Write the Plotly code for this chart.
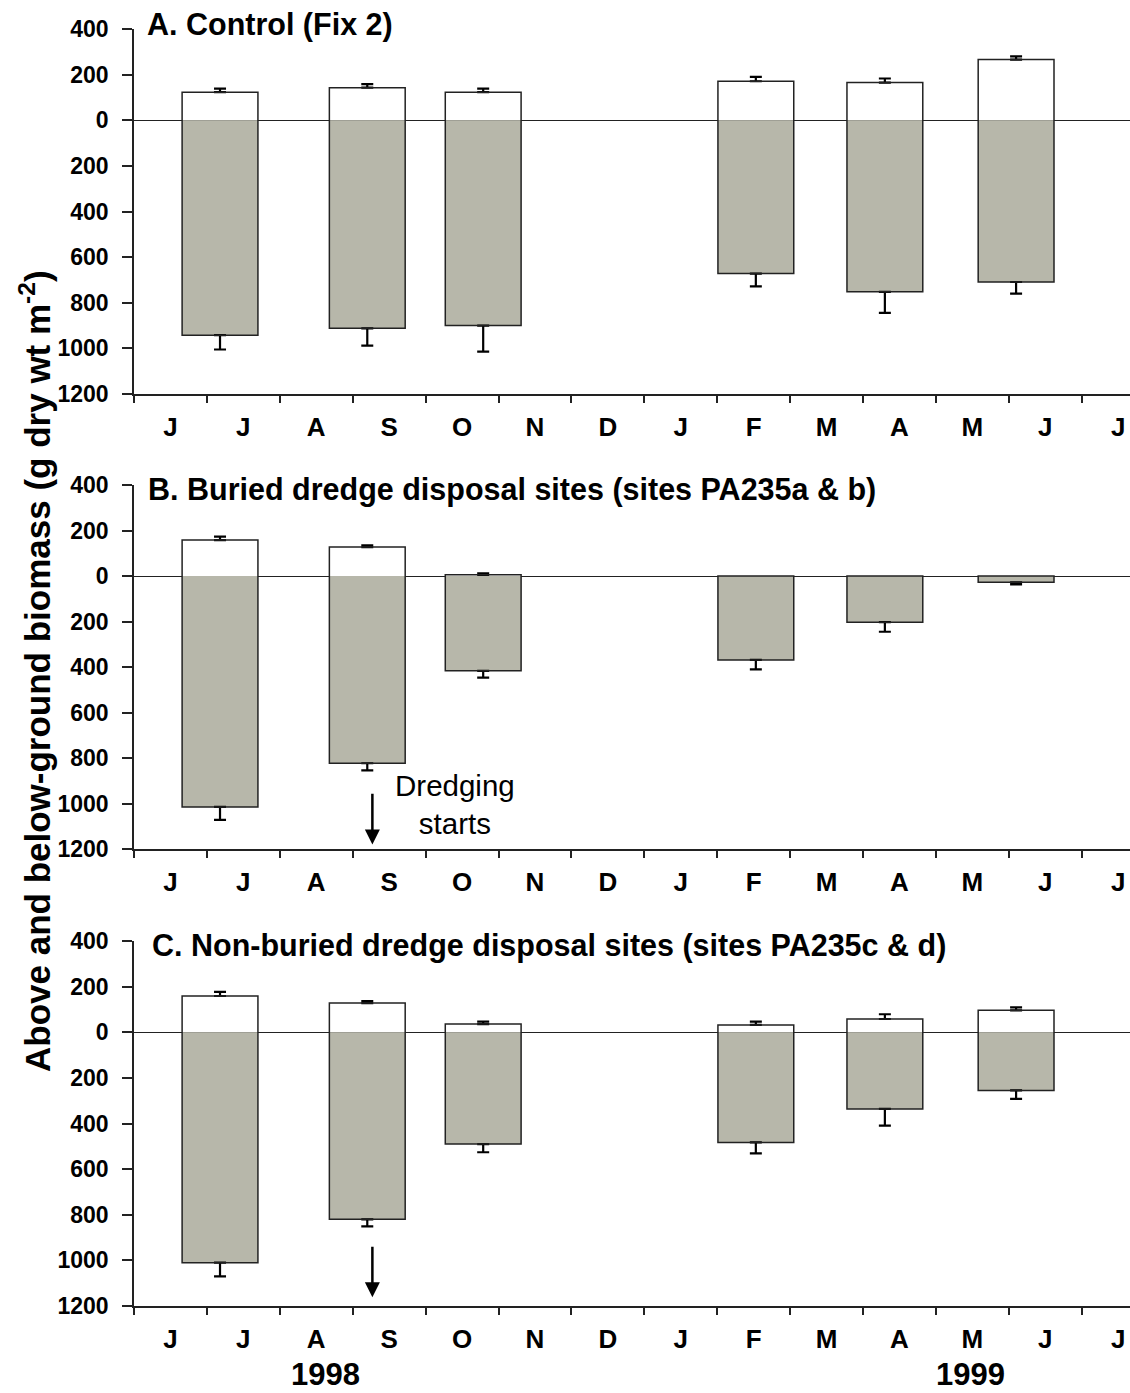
import plotly.graph_objects as go

# ---------------- data ----------------
months = ["J", "J", "A", "S", "O", "N", "D", "J", "F", "M", "A", "M", "J", "J"]
month_pos = [i + 0.5 for i in range(len(months))]
month_bounds = list(range(len(months)))

# sampling dates (fractional month index from start of June 1998)
sample_x = [1.18, 3.20, 4.79, 8.53, 10.30, 12.10]

# Panel A: Control (Fix 2)
a_above = [123, 143, 123, 171, 165, 266]
a_above_err = [16, 15, 16, 19, 18, 14]
a_below = [942, 912, 900, 672, 752, 709]
a_below_err = [63, 76, 114, 56, 92, 51]

# Panel B: Buried dredge disposal sites
b_above = [158, 127, 5, None, None, None]
b_above_err = [15, 8, 7, None, None, None]
b_below = [1015, 823, 417, 369, 203, 28]
b_below_err = [57, 31, 30, 41, 42, 9]

# Panel C: Non-buried dredge disposal sites
c_above = [159, 128, 36, 32, 58, 96]
c_above_err = [18, 9, 11, 15, 21, 13]
c_below = [1010, 820, 490, 483, 336, 255]
c_below_err = [60, 31, 36, 48, 73, 37]

panel_titles = [
    "A. Control (Fix 2)",
    "B. Buried dredge disposal sites (sites PA235a & b)",
    "C. Non-buried dredge disposal sites (sites PA235c & d)",
]
y_ticks = [-1200, -1000, -800, -600, -400, -200, 0, 200, 400]
y_ticktext = [str(abs(v)) for v in y_ticks]
years = ["1998", "1999"]

# ---------------- layout helpers ----------------
W, H = 1130, 1393
FONT = "Liberation Sans, Arial, sans-serif"
GRAY = "#b7b7aa"
EDGE = "#222222"

def py(px):
    return 1 - px / H

panels = [
    (a_above, a_above_err, a_below, a_below_err, (29, 394)),
    (b_above, b_above_err, b_below, b_below_err, (485, 849)),
    (c_above, c_above_err, c_below, c_below_err, (941, 1306)),
]

fig = go.Figure()
bar_w = 1.04
x_right = (1130 - 134) / 72.9

for i, (ab, abe, be, bee, (top, bot)) in enumerate(panels):
    xa = "x" if i == 0 else f"x{i+1}"
    ya = "y" if i == 0 else f"y{i+1}"
    n = len(sample_x)
    # above-ground (white)
    fig.add_trace(go.Bar(
        x=sample_x, y=ab, width=bar_w, xaxis=xa, yaxis=ya,
        marker=dict(color="white", line=dict(width=0)),
        error_y=dict(type="data", symmetric=False,
                     array=abe, arrayminus=[0] * n,
                     color="black", thickness=2.2, width=6),
        showlegend=False, hoverinfo="skip"))
    # below-ground (gray, plotted downward)
    fig.add_trace(go.Bar(
        x=sample_x, y=[-v for v in be], width=bar_w, xaxis=xa, yaxis=ya,
        marker=dict(color=GRAY, line=dict(width=0)),
        error_y=dict(type="data", symmetric=False, array=[0] * n,
                     arrayminus=bee, color="black", thickness=2.2, width=6),
        showlegend=False, hoverinfo="skip"))
    # outline of the whole column
    fig.add_trace(go.Bar(
        x=sample_x, base=[-v for v in be],
        y=[(a or 0) + b for a, b in zip(ab, be)], width=bar_w,
        xaxis=xa, yaxis=ya,
        marker=dict(color="rgba(0,0,0,0)", line=dict(width=1.5, color=EDGE)),
        showlegend=False, hoverinfo="skip"))

    xkey = "xaxis" if i == 0 else f"xaxis{i+1}"
    ykey = "yaxis" if i == 0 else f"yaxis{i+1}"
    fig.layout[xkey] = dict(
        domain=[134 / W, 1.0], range=[0, x_right], anchor=ya,
        automargin=False,
        tickmode="array", tickvals=month_pos, ticktext=months,
        ticks="outside", ticklen=9, tickcolor="rgba(0,0,0,0)",
        tickfont=dict(family=FONT, size=26, color="black", weight="bold"),
        showline=True, linecolor=EDGE, linewidth=1.5, showgrid=False,
        zeroline=False,
        minor=dict(tickmode="array", tickvals=month_bounds, ticks="outside",
                   ticklen=7, tickwidth=1.5, tickcolor=EDGE, showgrid=False),
    )
    fig.layout[ykey] = dict(
        domain=[py(bot), py(top)], range=[-1200, 400], anchor=xa,
        automargin=False,
        tickmode="array", tickvals=y_ticks, ticktext=y_ticktext,
        ticks="outside", ticklen=10, tickwidth=1.5, tickcolor=EDGE,
        ticklabelstandoff=9,
        tickfont=dict(family=FONT, size=23, color="black", weight="bold"),
        showline=True, linecolor=EDGE, linewidth=1.5, showgrid=False,
        zeroline=True, zerolinecolor=EDGE, zerolinewidth=1.2,
    )

annotations = []
title_y = [25, 490, 945]
title_x = [145, 146, 150]
for t, tyy, txx in zip(panel_titles, title_y, title_x):
    annotations.append(dict(
        text=t, xref="paper", yref="paper", x=txx / W, y=py(tyy),
        xanchor="left", yanchor="middle", showarrow=False,
        font=dict(family=FONT, size=30.5, color="black", weight="bold")))

annotations.append(dict(
    text="Above and below-ground biomass (g dry wt m<sup>-2</sup>)",
    xref="paper", yref="paper", x=35 / W, y=py(671), textangle=-90,
    xanchor="center", yanchor="middle", showarrow=False,
    font=dict(family=FONT, size=35, color="black", weight="bold")))

for yr, xp in zip(years, [325, 970]):
    annotations.append(dict(
        text=yr, xref="paper", yref="paper", x=xp / W, y=py(1374),
        xanchor="center", yanchor="middle", showarrow=False,
        font=dict(family=FONT, size=31, color="black", weight="bold")))

# Dredging starts text + arrows
annotations.append(dict(
    text="Dredging<br>starts", xref="x2", yref="y2", x=4.40, y=-1004,
    xanchor="center", yanchor="middle", showarrow=False,
    font=dict(family=FONT, size=29.5, color="black")))
for xr, yr_, tail, head in [("x2", "y2", -951, -1180), ("x3", "y3", -934, -1162)]:
    annotations.append(dict(
        text="", xref=xr, yref=yr_, x=3.27, y=head, axref=xr, ayref=yr_,
        ax=3.27, ay=tail, showarrow=True, arrowhead=2, arrowsize=1.2,
        arrowwidth=2.5, arrowcolor="black"))

fig.update_layout(
    width=W, height=H, margin=dict(l=0, r=0, t=0, b=0, autoexpand=False),
    paper_bgcolor="white", plot_bgcolor="white",
    barmode="overlay", showlegend=False, annotations=annotations,
)

fig.write_html("out.html")
